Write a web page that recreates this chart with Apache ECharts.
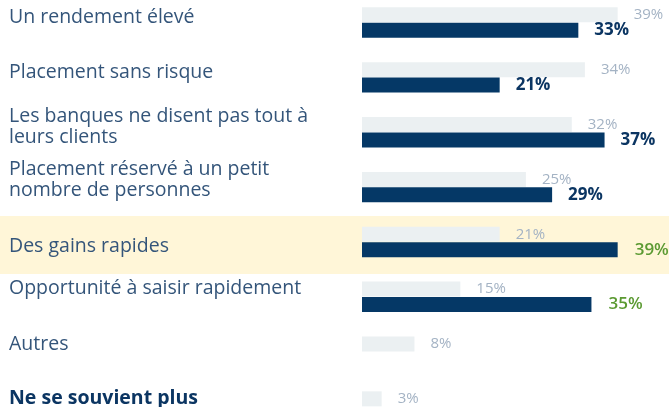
<!DOCTYPE html>
<html>
<head>
<meta charset="utf-8">
<script src="https://cdn.jsdelivr.net/npm/echarts@6/dist/echarts.min.js"></script>
<style>
  html, body { margin: 0; padding: 0; background: #fff; }
  #chart { width: 669px; height: 407px; }
</style>
</head>
<body>
<div id="chart"></div>
<script>
var categories = [
  "Un rendement élevé",
  "Placement sans risque",
  "Les banques ne disent pas tout à\nleurs clients",
  "Placement réservé à un petit\nnombre de personnes",
  "Des gains rapides",
  "Opportunité à saisir rapidement",
  "Autres",
  "Ne se souvient plus"
];
var lightValues = [39, 34, 32, 25, 21, 15, 8, 3];
var darkValues = [33, 21, 37, 29, 39, 35, null, null];
// rangées dont la valeur foncée est en vert
var greenRows = [4, 5];
var highlightRow = 4;
var boldRow = 7;

// décalage vertical du libellé (px, négatif = vers le haut)
var labelShift = [-5, -5, -5.5, -7.5, 4, -8.5, -7, -8.5];

var chart = echarts.init(document.getElementById("chart"));
var font = "Open Sans";

var darkData = darkValues.map(function (v, i) {
  if (greenRows.indexOf(i) >= 0) {
    return { value: v, label: { color: "#5b9a32", fontWeight: 600, distance: 17 } };
  }
  return v;
});

var rich = {};
labelShift.forEach(function (s, i) {
  rich["r" + i] = {
    fontFamily: font,
    fontSize: 19.5,
    lineHeight: 21,
    color: i === boldRow ? "#0b3562" : "#34557a",
    fontWeight: i === boldRow ? "bold" : "normal",
    padding: s < 0 ? [0, 0, -2 * s, 0] : [2 * s, 0, 0, 0]
  };
});

var option = {
  animation: false,
  graphic: [{
    type: "rect",
    z: -10,
    shape: { x: 0, y: 216, width: 669, height: 58 },
    style: { fill: "#fff6d8" }
  }],
  grid: { left: 362, right: 12, top: -4.9, height: 438.9, outerBoundsMode: "none" },
  xAxis: {
    type: "value",
    min: 0,
    max: 45,
    show: false
  },
  yAxis: {
    type: "category",
    inverse: true,
    data: categories,
    axisLine: { show: false },
    axisTick: { show: false },
    axisLabel: {
      align: "left",
      margin: 353,
      formatter: function (val, i) {
        return val.split("\n").map(function (s) { return "{r" + i + "|" + s + "}"; }).join("\n");
      },
      rich: rich
    }
  },
  series: [
    {
      type: "bar",
      data: lightValues,
      barWidth: 15,
      barGap: "3%",
      itemStyle: { color: "#ebf0f2" },
      label: {
        show: true,
        position: "right",
        distance: 16,
        formatter: "{c}%",
        fontFamily: font,
        fontSize: 15,
        color: "#a4b3c4"
      }
    },
    {
      type: "bar",
      data: darkData,
      barWidth: 15,
      itemStyle: { color: "#053866" },
      label: {
        show: true,
        position: "right",
        distance: 16,
        formatter: "{c}%",
        fontFamily: font,
        fontSize: 17,
        fontWeight: "bold",
        color: "#0b3562"
      }
    }
  ]
};

chart.setOption(option);
</script>
</body>
</html>
